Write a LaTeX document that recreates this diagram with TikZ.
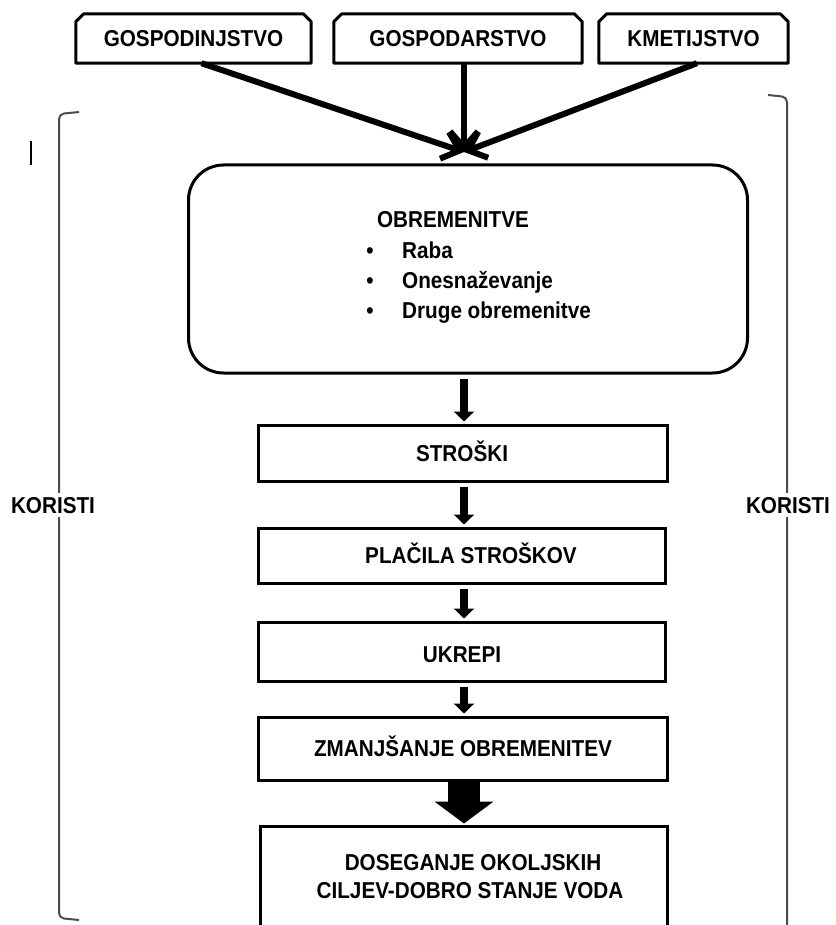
\documentclass[tikz,border=0pt]{standalone}
\usepackage{fontspec}
\setmainfont{Liberation Sans}[FakeStretch=0.9]
\usetikzlibrary{arrows.meta,calc}
\begin{document}
\begin{tikzpicture}[x=1pt,y=-1pt,
  lbl/.style={font=\fontsize{23}{27}\selectfont\bfseries, inner sep=0pt, text height=16.5pt, text depth=0pt},
  boxline/.style={line width=3pt, line join=round},
  rbox/.style={draw, line width=3pt, inner sep=0pt},
  sarrow/.style={line width=8pt, -{Triangle[length=10pt 0 0,width=20pt 0 0]}, shorten <=4pt, shorten >=2pt},
  barrow/.style={line width=32pt, -{Triangle[length=22pt 0 0,width=58pt 0 0]}, shorten >=1pt},
  tarrow/.style={line width=6pt, -{Straight Barb[length=16pt 0 0,width=28pt 0 0]}},
  bracket/.style={draw=black!70, line width=2pt, rounded corners=5pt}
]
\useasboundingbox (0,0) rectangle (835,925);
\clip (0,0) rectangle (835,925);

% brackets (behind labels)
\draw[bracket] (79,112) -- (59,114) -- (59,918) -- (79,920);
\draw[bracket] (768,95) -- (787,97) -- (787,930);
\node[lbl, fill=white, inner ysep=4pt] (kl) at (53,505) {KORISTI};
\node[lbl, fill=white, inner ysep=4pt] (kr) at (788,505) {KORISTI};
\draw[line width=2pt] (31,141) -- (31,165);

% top boxes
\node[lbl, minimum width=235pt, minimum height=49pt] (g1) at (193.5,38.5) {GOSPODINJSTVO};
\node[lbl, minimum width=248pt, minimum height=49pt] (g2) at (458,38.5) {GOSPODARSTVO};
\node[lbl, minimum width=189pt, minimum height=49pt] (g3) at (693.5,38.5) {KMETIJSTVO};
\foreach \n in {g1,g2,g3}
  \draw[boxline] (\n.south west) -- ([yshift=-8pt]\n.north west) -- ([xshift=8pt]\n.north west)
    -- ([xshift=-8pt]\n.north east) -- ([yshift=-8pt]\n.north east) -- (\n.south east) -- cycle;

\coordinate (tip) at (464,152);
\draw[tarrow] ([xshift=8pt]g1.south) -- (tip);
\draw[tarrow] ([xshift=6pt]g2.south) -- (tip);
\draw[tarrow] ([xshift=3.5pt]g3.south) -- (tip);

% big rounded box
\node[draw, line width=3pt, rounded corners=35pt, minimum width=559pt, minimum height=208pt] (ob) at (468,269) {};
\node[lbl] (obt) at (453,219) {OBREMENITVE};
\node[lbl] (b1) at (370,250) {\textbullet};
\node[lbl] (b2) at (370,280) {\textbullet};
\node[lbl] (b3) at (370,310) {\textbullet};
\node[lbl, anchor=west] (r1) at (402,250) {Raba};
\node[lbl, anchor=west] (r2) at (402,280) {Onesnaževanje};
\node[lbl, anchor=west] (r3) at (402,310) {Druge obremenitve};

% chain boxes
\node[rbox, minimum width=409pt, minimum height=56pt] (s1) at (462.5,453) {};
\node[lbl] (s1t) at (462,453) {STROŠKI};
\node[rbox, minimum width=407pt, minimum height=55pt] (s2) at (461.5,555.5) {};
\node[lbl] (s2t) at (471,555) {PLAČILA STROŠKOV};
\node[rbox, minimum width=407pt, minimum height=59pt] (s3) at (461.5,651.5) {};
\node[lbl] (s3t) at (462,654) {UKREPI};
\node[rbox, minimum width=409pt, minimum height=63pt] (s4) at (462.5,748.5) {};
\node[lbl] (s4t) at (463,748) {ZMANJŠANJE OBREMENITEV};
\node[rbox, minimum width=407pt, minimum height=140pt] (s5) at (463.5,896) {};
\node[lbl] (s5a) at (473,862) {DOSEGANJE OKOLJSKIH};
\node[lbl] (s5b) at (470,890) {CILJEV-DOBRO STANJE VODA};

\coordinate (ax) at (464,0);
\draw[sarrow] (ob.south -| ax) -- (s1.north -| ax);
\draw[sarrow] (s1.south -| ax) -- (s2.north -| ax);
\draw[sarrow] (s2.south -| ax) -- (s3.north -| ax);
\draw[sarrow] (s3.south -| ax) -- (s4.north -| ax);
\draw[barrow] (s4.south -| ax) -- (s5.north -| ax);
\end{tikzpicture}
\end{document}
